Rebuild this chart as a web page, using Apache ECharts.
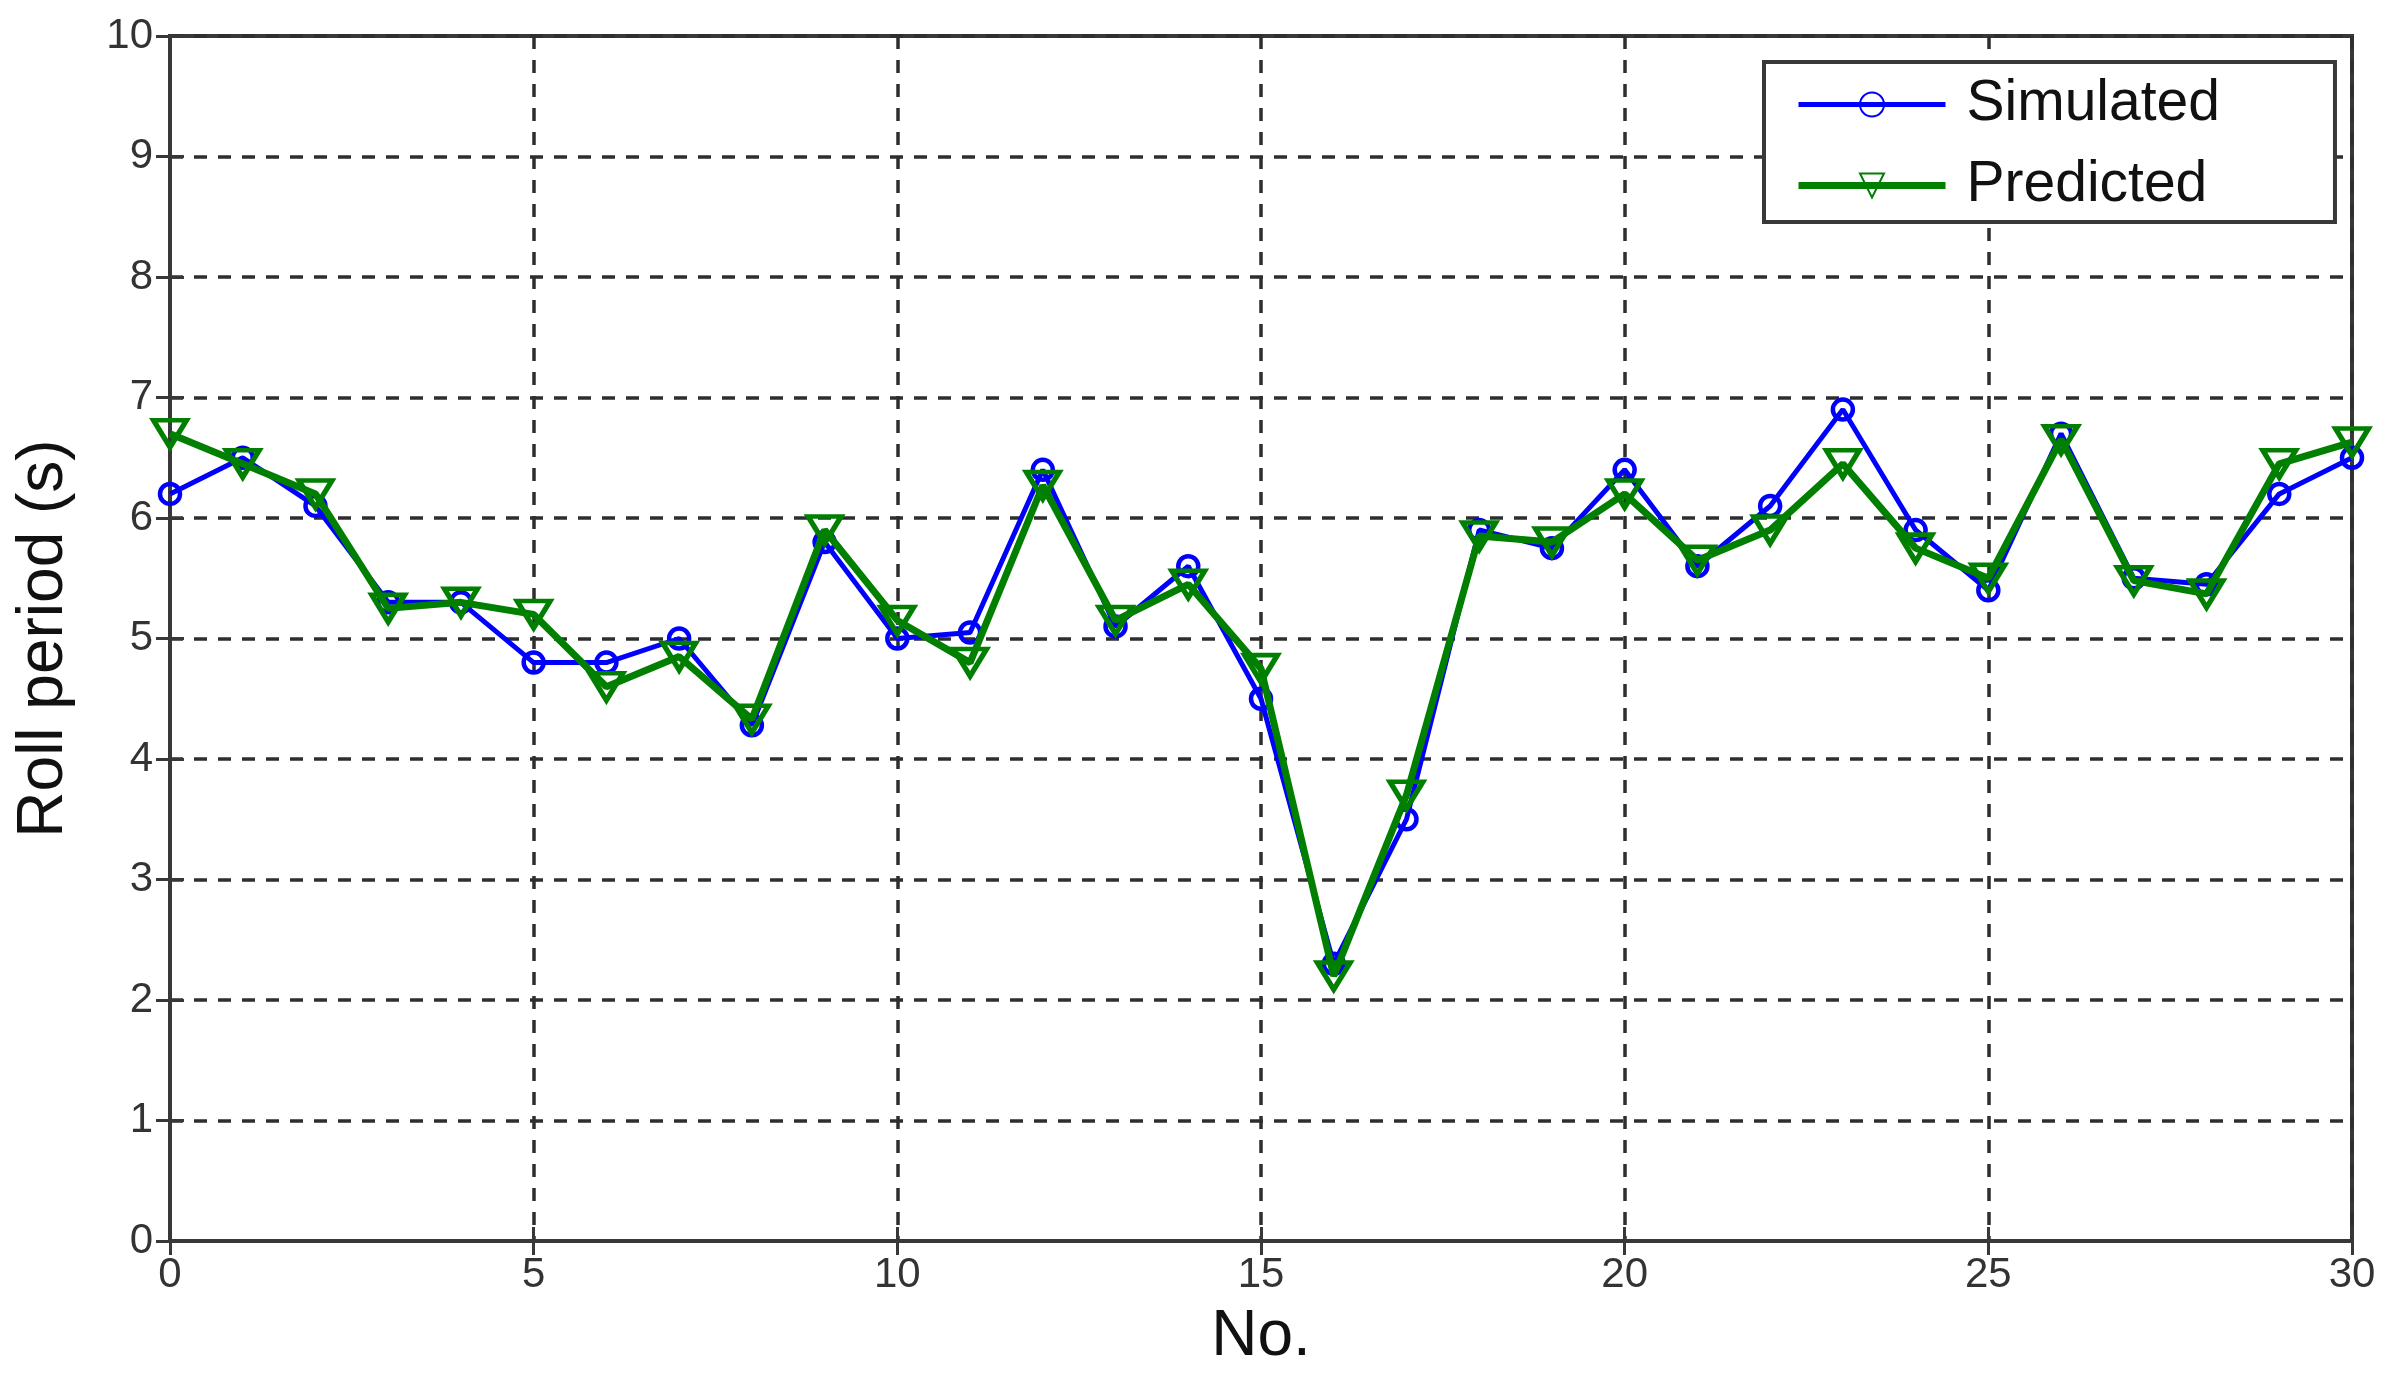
<!DOCTYPE html>
<html>
<head>
<meta charset="utf-8">
<script src="https://cdn.jsdelivr.net/npm/echarts@6/dist/echarts.min.js"></script>
<style>
  html, body { margin: 0; padding: 0; background: #fff; }
  #main { width: 2395px; height: 1374px; }
</style>
</head>
<body>
<div id="main"></div>
<script>
// sample numbers 0..30
var caseNo = [0, 1, 2, 3, 4, 5, 6, 7, 8, 9, 10, 11, 12, 13, 14, 15, 16, 17, 18, 19, 20, 21, 22, 23, 24, 25, 26, 27, 28, 29, 30];
// roll period (s)
var simulated = [6.2, 6.5, 6.1, 5.3, 5.3, 4.8, 4.8, 5.0, 4.28, 5.8, 5.0, 5.05, 6.4, 5.1, 5.6, 4.5, 2.3, 3.5, 5.9, 5.75, 6.4, 5.6, 6.1, 6.9, 5.9, 5.4, 6.7, 5.5, 5.45, 6.2, 6.5];
var predicted = [6.7, 6.45, 6.2, 5.25, 5.3, 5.2, 4.6, 4.85, 4.33, 5.9, 5.15, 4.8, 6.27, 5.15, 5.45, 4.75, 2.2, 3.7, 5.85, 5.8, 6.2, 5.65, 5.9, 6.45, 5.75, 5.5, 6.65, 5.48, 5.37, 6.45, 6.63];
var xTicks = [0, 5, 10, 15, 20, 25, 30];
var yTicks = [0, 1, 2, 3, 4, 5, 6, 7, 8, 9, 10];

var myChart = echarts.init(document.getElementById("main"));

function pairs(vals) {
  var out = [];
  caseNo.forEach(function (n, i) {
    out.push([n, vals[i]]);
  });
  return out;
}

var axisColor = "#383838";
var font = "'Liberation Sans', Arial, sans-serif";

var gridLine = {
  show: true,
  lineStyle: { color: "#2e2e2e", width: 3.5, type: [13, 11] },
};

var option = {
  backgroundColor: "#ffffff",
  animation: false,
  grid: {
    left: 170,
    right: 43,
    top: 36,
    bottom: 133,
    outerBoundsMode: "none",
    containLabel: false,
    show: true,
    borderColor: axisColor,
    borderWidth: 4,
    backgroundColor: "transparent",
  },
  legend: {
    left: 1764,
    top: 62,
    orient: "vertical",
    backgroundColor: "#fff",
    borderColor: axisColor,
    borderWidth: 4,
    borderRadius: 0,
    padding: [14, 115, 8, 31],
    itemGap: 24,
    itemWidth: 147,
    itemHeight: 30,
    lineStyle: { width: "inherit" },
    textStyle: {
      fontFamily: font,
      fontSize: 57,
      color: "#111",
      padding: [0, 0, 0, 16],
    },
    data: ["Simulated", "Predicted"],
  },
  xAxis: [
    {
      type: "value",
      min: 0,
      max: 30,
      interval: 5,
      name: "No.",
      nameLocation: "middle",
      nameGap: 64,
      nameTextStyle: { fontFamily: font, fontSize: 64, color: "#111" },
      axisLine: { show: true, lineStyle: { color: axisColor, width: 4 } },
      axisTick: { show: true, inside: true, length: 14, lineStyle: { color: axisColor, width: 3 } },
      axisLabel: {
        fontFamily: font,
        fontSize: 42,
        color: "#333",
        margin: 13,
        formatter: function (v) { return xTicks.indexOf(v) >= 0 ? String(v) : ""; },
      },
      splitLine: gridLine,
    },
    {
      type: "value",
      position: "top",
      min: 0,
      max: 30,
      interval: 5,
      axisLine: { show: false },
      axisTick: { show: true, inside: true, length: 14, lineStyle: { color: axisColor, width: 3 } },
      axisLabel: { show: false },
      splitLine: { show: false },
    },
  ],
  yAxis: [
    {
      type: "value",
      min: 0,
      max: 10,
      interval: 1,
      name: "Roll period (s)",
      nameLocation: "middle",
      nameGap: 94,
      nameTextStyle: { fontFamily: font, fontSize: 64, color: "#111" },
      axisLine: { show: true, lineStyle: { color: axisColor, width: 4 } },
      axisTick: { show: true, inside: true, length: 14, lineStyle: { color: axisColor, width: 3 } },
      axisLabel: {
        fontFamily: font,
        fontSize: 42,
        color: "#333",
        margin: 17,
        formatter: function (v) { return yTicks.indexOf(v) >= 0 ? String(v) : ""; },
      },
      splitLine: gridLine,
    },
    {
      type: "value",
      position: "right",
      min: 0,
      max: 10,
      interval: 1,
      axisLine: { show: false },
      axisTick: { show: true, inside: true, length: 14, lineStyle: { color: axisColor, width: 3 } },
      axisLabel: { show: false },
      splitLine: { show: false },
    },
  ],
  series: [
    {
      name: "Simulated",
      type: "line",
      data: pairs(simulated),
      symbol: "circle",
      symbolSize: 20,
      color: "#0000ff",
      lineStyle: { color: "#0000ff", width: 5 },
      itemStyle: { color: "rgba(255,255,255,0)", borderColor: "#0000ff", borderWidth: 4.5 },
      z: 3,
    },
    {
      name: "Predicted",
      type: "line",
      data: pairs(predicted),
      symbol: "triangle",
      symbolRotate: 180,
      symbolSize: [33, 27],
      color: "#007f00",
      lineStyle: { color: "#007f00", width: 7 },
      itemStyle: { color: "rgba(255,255,255,0)", borderColor: "#007f00", borderWidth: 5 },
      z: 4,
    },
  ],
};

option && myChart.setOption(option);
</script>
</body>
</html>
